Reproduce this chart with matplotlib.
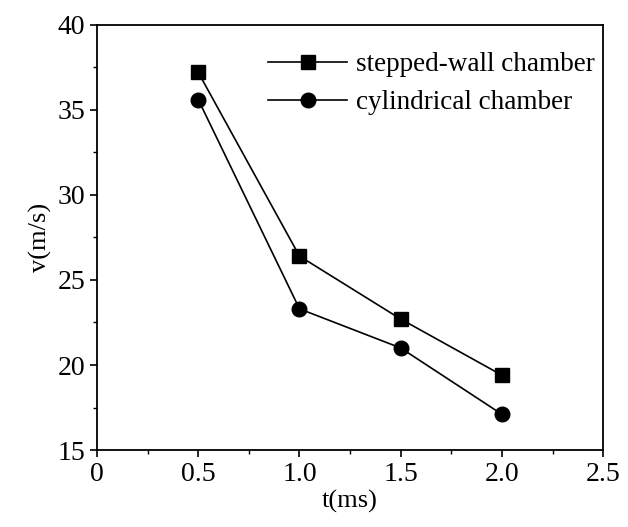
import matplotlib.pyplot as plt
from matplotlib.ticker import MultipleLocator

plt.rcParams['font.family'] = ['Liberation Serif', 'DejaVu Serif']

t = [0.5, 1.0, 1.5, 2.0]
v_stepped = [37.2, 26.4, 22.7, 19.4]
v_cyl = [35.6, 23.3, 21.0, 17.1]

fig = plt.figure(figsize=(6.28, 5.27), dpi=100)
ax = fig.add_axes([0.1545, 0.146, 0.806, 0.807])

ax.plot(t, v_stepped, color='black', lw=1.2, marker='s', markersize=9.5, label='stepped-wall chamber')
ax.plot(t, v_cyl, color='black', lw=1.2, marker='o', markersize=10.5, label='cylindrical chamber')

ax.set_xlim(0, 2.5)
ax.set_ylim(15, 40)
ax.xaxis.set_major_locator(MultipleLocator(0.5))
ax.xaxis.set_minor_locator(MultipleLocator(0.25))
ax.yaxis.set_major_locator(MultipleLocator(5))
ax.yaxis.set_minor_locator(MultipleLocator(2.5))
ax.xaxis.set_major_formatter(plt.FuncFormatter(lambda x, p: '0' if x == 0 else f'{x:.1f}'))
ax.tick_params(which='major', direction='out', length=5, width=1.2, labelsize=20, top=False, right=False)
ax.tick_params(which='minor', direction='out', length=3, width=1.0, top=False, right=False)
for s in ax.spines.values():
    s.set_linewidth(1.3)

ax.set_xlabel('t(ms)', fontsize=19, labelpad=2)
ax.set_ylabel('v(m/s)', fontsize=19, labelpad=4)

ax.legend(loc='upper right', frameon=False, fontsize=19.5, handlelength=2.9,
          handletextpad=0.35, labelspacing=0.48, borderaxespad=0.2,
          bbox_to_anchor=(1.016, 0.974))

fig.savefig('out.png', dpi=100)
